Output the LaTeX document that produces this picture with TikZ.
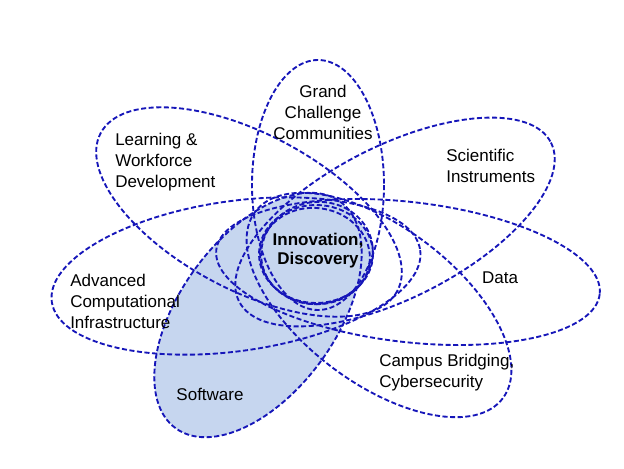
\documentclass[tikz,border=0pt]{standalone}
\usepackage{fontspec}
\setmainfont{Liberation Sans}
\definecolor{petalline}{RGB}{22,22,185}
\definecolor{petalfill}{RGB}{198,214,239}

\begin{document}
\begin{tikzpicture}[x=0.75pt,y=-0.75pt,
  petal/.style={petalline,line width=1.4pt,dash pattern=on 3.8pt off 1.9pt},
  label node/.style={inner sep=0pt,align=left,font=\fontsize{12.75}{15.75}\selectfont},
  core node/.style={inner sep=0pt,align=center,font=\fontsize{12.75}{14.25}\selectfont\bfseries}]

\useasboundingbox (0,0) rectangle (624,468);

\fill[petalfill,rotate around={54:(258,315)}] (258,315) ellipse [x radius=140,y radius=78];
\fill[petalfill] (316,254) ellipse [x radius=57,y radius=49];

\draw[petal] (318,185) ellipse [x radius=66,y radius=125];
\draw[petal,rotate around={-28:(249,212)}] (249,212) ellipse [x radius=168,y radius=78];
\draw[petal,rotate around={27:(395,222)}] (395,222) ellipse [x radius=175,y radius=76];
\draw[petal,rotate around={8:(236,276)}] (236,276) ellipse [x radius=186,y radius=75];
\draw[petal,rotate around={-6.6:(408,272)}] (408,272) ellipse [x radius=193,y radius=70];
\draw[petal,rotate around={-37:(379,305)}] (379,305) ellipse [x radius=155,y radius=78];
\draw[petal,rotate around={54:(258,315)}] (258,315) ellipse [x radius=140,y radius=78];

\draw[petal] (316,254) ellipse [x radius=57,y radius=49];
\draw[petal,rotate around={10:(317,253)}] (317,253) ellipse [x radius=56,y radius=51];
\draw[petal,rotate around={-8:(315,256)}] (315,256) ellipse [x radius=55,y radius=48];

\node[label node,align=center](GC) at (323,112) {Grand\\Challenge\\Communities};
\node[label node,anchor=west](LW) at (115,162) {Learning \&\\Workforce\\Development};
\node[label node,anchor=west](SI) at (446,166) {Scientific\\Instruments};
\node[label node,anchor=west](AC) at (70,301) {Advanced\\Computational\\Infrastructure};
\node[label node](DA) at (500,278) {Data};
\node[label node,anchor=west](CB) at (379,373) {Campus Bridging,\\Cybersecurity};
\node[label node](SW) at (210,394) {Software};
\node[core node](ID) at (318,251) {Innovation,\\Discovery};

\end{tikzpicture}
\end{document}
